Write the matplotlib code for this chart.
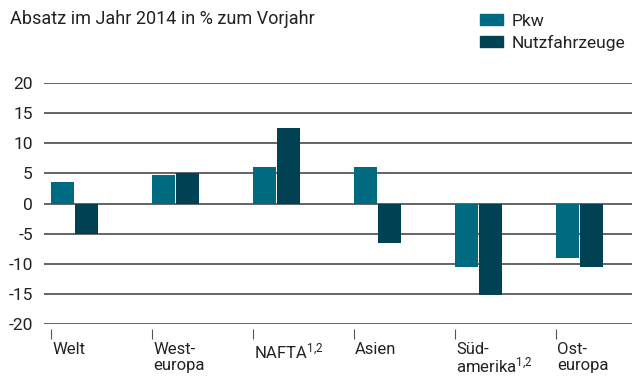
import matplotlib
matplotlib.use("Agg")
import matplotlib.pyplot as plt
import matplotlib.transforms as mtransforms
from matplotlib.patches import Patch
import numpy as np

# Absatzveränderung 2014 gegenüber Vorjahr, in %
regions = ["Welt", "West-\neuropa", "NAFTA$^{1{,}2}$", "Asien", "Süd-\namerika$^{1{,}2}$", "Ost-\neuropa"]
pkw = [3.5, 4.7, 6.0, 6.0, -10.5, -9.0]
nutzfahrzeuge = [-5.0, 5.0, 12.5, -6.5, -15.2, -10.5]

y_ticks = [20, 15, 10, 5, 0, -5, -10, -15, -20]

col_pkw = "#006a80"
col_nfz = "#004254"
grid_col = "#4a4a4a"

plt.rcParams["font.family"] = ["Roboto", "DejaVu Sans"]
plt.rcParams["mathtext.default"] = "regular"

fig = plt.figure(figsize=(6.32, 3.76), dpi=100)
ax = fig.add_axes([44 / 632, 52 / 376, 588 / 632, 241 / 376])

x = np.arange(len(regions))
bw = 0.225
ax.bar(x, pkw, width=bw, align="edge", color=col_pkw, zorder=3)
ax.bar(x + 0.24, nutzfahrzeuge, width=bw, align="edge", color=col_nfz, zorder=3)

ax.set_xlim(-7 / 101, 581 / 101)
ax.set_ylim(-20, 20)
ax.set_yticks(y_ticks)
ax.set_yticklabels([str(v) for v in y_ticks])
for v in y_ticks:
    ax.axhline(v, color=grid_col, lw=1.2, zorder=1)

for s in ax.spines.values():
    s.set_visible(False)
ax.tick_params(axis="y", length=0, pad=8, labelsize=12.5, labelcolor="#222222")
ax.set_xticks([])

# Kategorie-Markierungen und Beschriftungen unterhalb der Achse
trans = mtransforms.blended_transform_factory(ax.transData, ax.transAxes)
ax.vlines(x, -0.021, -0.062, transform=trans, color="#555555", lw=0.8, clip_on=False)
for xi, label in zip(x, regions):
    ax.text(xi + 0.01, -0.074, label, transform=trans, ha="left", va="top",
            fontsize=12, color="#222222",
            linespacing=0.95 if "amerika" in label else 1.1)

fig.text(10 / 632, 1 - 19 / 376, "Absatz im Jahr 2014 in % zum Vorjahr",
         fontsize=13, color="#222222", va="center", ha="left")

handles = [Patch(color=col_pkw), Patch(color=col_nfz)]
fig.legend(handles, ["Pkw", "Nutzfahrzeuge"], loc="upper left",
           bbox_to_anchor=(480 / 632, 1 - 14 / 376), frameon=False,
           fontsize=12.5, handlelength=1.35, handleheight=0.6,
           handletextpad=0.5, labelspacing=0.32, borderpad=0.0,
           borderaxespad=0.0, labelcolor="#222222")

fig.savefig("out.png", dpi=100)
